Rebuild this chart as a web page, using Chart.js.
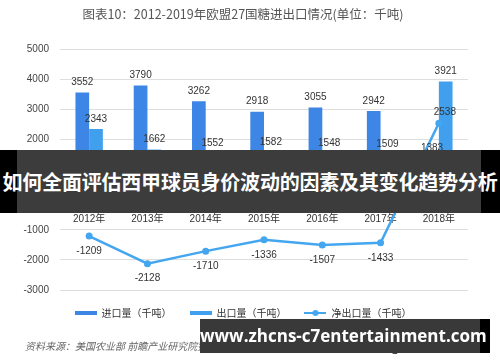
<!DOCTYPE html>
<html>
<head>
<meta charset="utf-8">
<script src="https://cdn.jsdelivr.net/npm/chart.js@4.4.1/dist/chart.umd.min.js"></script>
<style>
    html, body { margin: 0; padding: 0; background: #fff; }
    #wrap { position: relative; width: 500px; height: 362px; overflow: hidden; }
    #wrap canvas { position: absolute; left: 0; top: 0; }
    .src { position: absolute; font-family: "Noto Sans CJK SC", sans-serif; font-size: 10px; color: #666; }
    .band { position: absolute; left: 0; top: 150px; width: 500px; height: 63px; background: #000; }
    .band-in { position: absolute; left: 17px; top: 0; width: 464px; height: 63px; background: rgba(70,70,70,0.85); }
    .band-text { position: absolute; left: 0; top: 0; width: 500px; height: 63px; line-height: 63px; text-align: center;
        font-family: "Noto Sans CJK SC", sans-serif; font-weight: bold; font-size: 20px; color: #fff; white-space: nowrap; letter-spacing: -0.2px; }
    .url { position: absolute; left: 200px; top: 319px; width: 290px; height: 34px; background: #000; }
    .url-in { position: absolute; left: 0; top: 0; width: 280px; height: 34px; background: rgba(70,70,70,0.82); }
    .url-text { position: absolute; left: 0; top: 0; width: 280px; height: 34px; line-height: 34px; text-align: center;
        font-family: "Open Sans", sans-serif; font-weight: bold; font-size: 17px; color: #fff; white-space: nowrap; }
</style>
</head>
<body>
<div id="wrap">
    <canvas id="chart" width="500" height="362"></canvas>
    <div class="src" style="left:25px;top:338px;font-style:italic;">资料来源：美国农业部 前瞻产业研究院整理</div>
    <div class="src" style="left:390px;top:339px;font-size:11px;color:#222;">@前瞻经济学人APP</div>
    <!-- overlay banners -->
    <div class="band"><div class="band-in"></div><div class="band-text">如何全面评估西甲球员身价波动的因素及其变化趋势分析</div></div>
    <div class="url"><div class="url-in"></div><div class="url-text">www.zhcns-c7entertainment.com</div></div>
</div>
<script>
const years = ['2012年', '2013年', '2014年', '2015年', '2016年', '2017年', '2018年'];
const imports = [3552, 3790, 3262, 2918, 3055, 2942, 1383];
const exports = [2343, 1662, 1552, 1582, 1548, 1509, 3921];
const netExports = [-1209, -2128, -1710, -1336, -1507, -1433, 2538];
const seriesNames = ['进口量（千吨）', '出口量（千吨）', '净出口量（千吨）'];
const yTicks = [5000, 4000, 3000, 2000, 1000, 0, -1000, -2000, -3000];

const colors = {
    imp: '#3d86e6',
    exp: '#40a0ee',
    net: '#45a6f0'
};

// legend swatches
function swatch(color, withDot) {
    const c = document.createElement('canvas');
    c.width = 22; c.height = withDot ? 8 : 4;
    const g = c.getContext('2d');
    g.fillStyle = color;
    if (withDot) {
        g.fillRect(0, 3, 22, 2);
        g.beginPath(); g.arc(11, 4, 3, 0, Math.PI * 2); g.fill();
    } else {
        g.fillRect(0, 0, 22, 4);
    }
    return c;
}
const swatches = [swatch(colors.imp), swatch(colors.exp), swatch(colors.net, true)];

const numFont = '10px "Liberation Sans", Arial, sans-serif';

const valueLabels = {
    id: 'valueLabels',
    afterDatasetsDraw(chart) {
        const ctx = chart.ctx;
        ctx.save();
        ctx.font = numFont;
        ctx.fillStyle = '#333';
        ctx.textAlign = 'center';
        chart.data.datasets.forEach((ds, di) => {
            const meta = chart.getDatasetMeta(di);
            meta.data.forEach((el, i) => {
                const v = ds.data[i];
                if (ds.type === 'line') {
                    if (v > 0) {
                        ctx.textBaseline = 'bottom';
                        ctx.fillText(v, el.x + 6, el.y - 6);
                    } else {
                        ctx.textBaseline = 'top';
                        ctx.fillText(v, el.x, el.y + 10);
                    }
                } else {
                    ctx.textBaseline = 'bottom';
                    ctx.fillText(v, el.x, el.y - 5);
                }
            });
        });
        ctx.restore();
    }
};

new Chart(document.getElementById('chart'), {
    data: {
        labels: years,
        datasets: [
            {
                type: 'bar', label: seriesNames[0], data: imports,
                backgroundColor: colors.imp, categoryPercentage: 0.47, barPercentage: 1, order: 2
            },
            {
                type: 'bar', label: seriesNames[1], data: exports,
                backgroundColor: colors.exp, categoryPercentage: 0.47, barPercentage: 1, order: 2
            },
            {
                type: 'line', label: seriesNames[2], data: netExports,
                borderColor: colors.net, backgroundColor: colors.net, borderWidth: 2.5,
                pointRadius: 3.5, pointBackgroundColor: colors.net, pointBorderWidth: 0,
                tension: 0, order: 1
            }
        ]
    },
    options: {
        responsive: false,
        animation: false,
        layout: { padding: { left: 18, right: 32, top: 0, bottom: 34 } },
        plugins: {
            title: {
                display: true,
                text: '图表10：2012-2019年欧盟27国糖进出口情况(单位：千吨)',
                color: '#555',
                font: { family: '"Noto Sans CJK SC", sans-serif', size: 12.5, weight: 'normal' },
                padding: { top: 7, bottom: 27 }
            },
            legend: {
                position: 'bottom',
                labels: {
                    usePointStyle: true,
                    pointStyleWidth: 22,
                    color: '#333',
                    padding: 18,
                    font: { family: '"Noto Sans CJK SC", sans-serif', size: 10 },
                    sort: (a, b) => a.datasetIndex - b.datasetIndex,
                    generateLabels(chart) {
                        const items = Chart.defaults.plugins.legend.labels.generateLabels(chart);
                        items.forEach(it => { it.pointStyle = swatches[it.datasetIndex]; });
                        return items;
                    }
                }
            },
            tooltip: { enabled: false }
        },
        scales: {
            x: {
                position: { y: 0 },
                grid: { display: false, drawTicks: false },
                border: { display: false },
                ticks: { color: '#333', padding: 14, font: { family: '"Liberation Sans", "Noto Sans CJK SC", sans-serif', size: 10 } }
            },
            y: {
                min: -3000, max: 5000,
                afterBuildTicks(scale) { scale.ticks = yTicks.map(v => ({ value: v })); },
                afterFit(scale) { scale.width = 42; },
                grid: { color: '#dedede', drawTicks: false },
                border: { display: false },
                ticks: {
                    color: '#444', padding: 11,
                    font: { family: '"Liberation Sans", Arial, sans-serif', size: 10 },
                    callback: v => String(v)
                }
            }
        }
    },
    plugins: [valueLabels]
});
</script>
</body>
</html>
